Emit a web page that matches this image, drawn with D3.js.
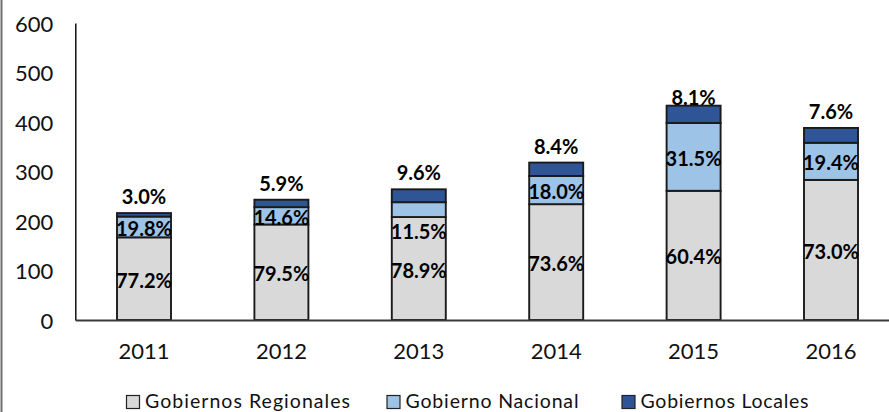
<!DOCTYPE html>
<html>
<head>
<meta charset="utf-8">
<script src="https://cdn.jsdelivr.net/npm/d3@7"></script>
<style>
  html, body { margin: 0; padding: 0; background: #fff; }
  svg { display: block; }
</style>
</head>
<body>
<svg id="chart" width="889" height="412"></svg>
<script>
// ---- data ----
const categories = ["2011", "2012", "2013", "2014", "2015", "2016"];
const regionales = [167, 193, 208, 234, 261, 283];
const nacional   = [42, 35, 30, 57, 137, 75];
const locales    = [7, 15, 26, 27, 35, 30];
const pctRegionales = ["77.2%", "79.5%", "78.9%", "73.6%", "60.4%", "73.0%"];
const pctNacional   = ["19.8%", "14.6%", "11.5%", "18.0%", "31.5%", "19.4%"];
const pctLocales    = ["3.0%", "5.9%", "9.6%", "8.4%", "8.1%", "7.6%"];
const yTicks = [0, 100, 200, 300, 400, 500, 600];
const seriesNames = ["Gobiernos Regionales", "Gobierno Nacional", "Gobiernos Locales"];

// ---- styles ----
const colors = ["#d9d9d9", "#9dc3e6", "#2f5597"];
const FONT = "Lato, 'Open Sans', sans-serif";

const svg = d3.select("#chart");
const W = 889, H = 412;

// frame line on the left edge
svg.append("line").attr("x1", 1.5).attr("x2", 1.5).attr("y1", 0).attr("y2", H)
  .attr("stroke", "#6f6f6f").attr("stroke-width", 2);

const x = d3.scaleBand().domain(categories).range([75.3, 899.7])
  .paddingInner(0.607).paddingOuter(0.3035);
const y = d3.scaleLinear().domain([0, 600]).range([320, 23]);

// table for stacking
const table = categories.map((c, i) => ({
  cat: c, reg: regionales[i], nac: nacional[i], loc: locales[i]
}));
const keys = ["reg", "nac", "loc"];
const stacked = d3.stack().keys(keys)(table);

// bars
const layers = svg.append("g").selectAll("g").data(stacked).join("g")
  .attr("fill", (d, i) => colors[i]);
layers.selectAll("rect").data(d => d).join("rect")
  .attr("x", d => x(d.data.cat))
  .attr("width", x.bandwidth())
  .attr("y", d => y(d[1]))
  .attr("height", d => y(d[0]) - y(d[1]))
  .attr("stroke", "#1a1a1a")
  .attr("stroke-width", 1.9);

// y axis
const yAxis = svg.append("g").attr("transform", "translate(75.3,0)")
  .call(d3.axisLeft(y).tickValues(yTicks).tickSize(0).tickSizeOuter(0).tickPadding(22));
yAxis.select(".domain").attr("stroke", "#111").attr("stroke-width", 1.5);
yAxis.selectAll("text").attr("font-family", FONT).attr("font-size", 22)
  .attr("fill", "#111").attr("dy", "0.38em");

// x axis
const xAxis = svg.append("g").attr("transform", "translate(0,320)")
  .call(d3.axisBottom(x).tickSize(0).tickSizeOuter(0).tickPadding(23));
xAxis.select(".domain").attr("stroke", "#3a3a3a").attr("stroke-width", 2.2);
xAxis.selectAll("text").attr("font-family", FONT).attr("font-size", 22).attr("fill", "#111");

// labels
const lbl = svg.append("g").attr("font-family", FONT).attr("font-weight", "bold")
  .attr("font-size", 20).attr("fill", "#000").attr("text-anchor", "middle");
const nacShift = { "2013": 20 };
const locShift = { "2015": 8 };

stacked[0].forEach((d, i) => {
  lbl.append("text")
    .attr("x", x(d.data.cat) + x.bandwidth() / 2)
    .attr("y", (y(d[0]) + y(d[1])) / 2 + 2)
    .attr("dy", "0.35em").text(pctRegionales[i]);
});
stacked[1].forEach((d, i) => {
  lbl.append("text")
    .attr("x", x(d.data.cat) + x.bandwidth() / 2)
    .attr("y", (y(d[0]) + y(d[1])) / 2 + 2 + (nacShift[d.data.cat] || 0))
    .attr("dy", "0.35em").text(pctNacional[i]);
});
stacked[2].forEach((d, i) => {
  lbl.append("text")
    .attr("x", x(d.data.cat) + x.bandwidth() / 2)
    .attr("y", y(d[1]) - 9 + (locShift[d.data.cat] || 0))
    .text(pctLocales[i]);
});

// legend
const legendX = [126.5, 387, 622];
const legendW = [205, 173, 168];
const leg = svg.append("g");
seriesNames.forEach((name, i) => {
  leg.append("rect").attr("x", legendX[i]).attr("y", 395.5)
    .attr("width", 13).attr("height", 13)
    .attr("fill", colors[i]).attr("stroke", "#222").attr("stroke-width", 1.2);
  leg.append("text").attr("x", legendX[i] + 18.5).attr("y", 408.3)
    .attr("font-family", FONT).attr("font-size", 19.5).attr("fill", "#111")
    .attr("textLength", legendW[i]).attr("lengthAdjust", "spacing")
    .text(name);
});
</script>
</body>
</html>
